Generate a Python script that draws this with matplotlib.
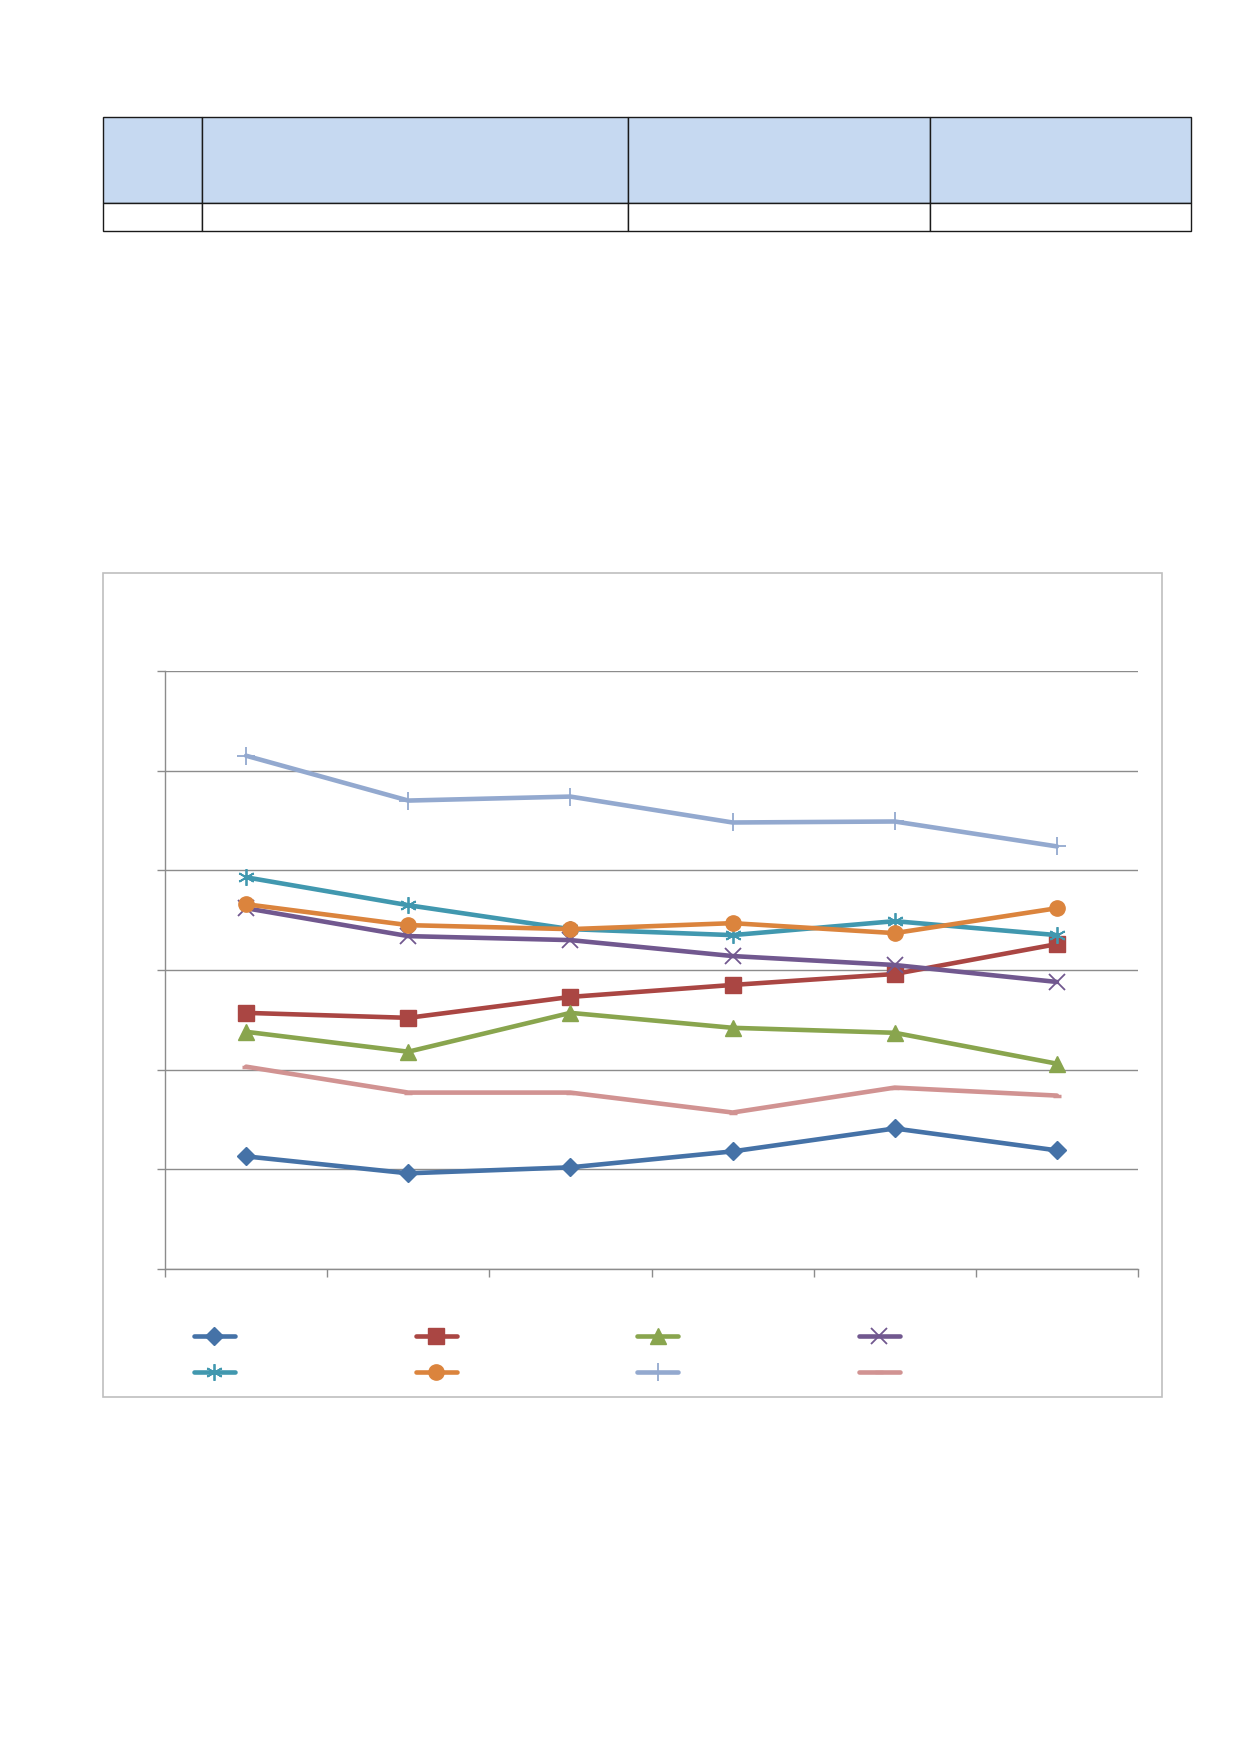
import numpy as np
import matplotlib
matplotlib.use("Agg")
import matplotlib.pyplot as plt
from matplotlib.patches import Rectangle

W, H = 1239, 1752

# six categories, values read against a 0-60 scale (no labels on the chart)
categories = ["", "", "", "", "", ""]
s_blue = [11.3, 9.6, 10.2, 11.8, 14.1, 11.9]
s_red = [25.7, 25.2, 27.3, 28.5, 29.6, 32.6]
s_green = [23.8, 21.8, 25.7, 24.2, 23.7, 20.6]
s_purple = [36.2, 33.4, 33.0, 31.4, 30.5, 28.8]
s_teal = [39.3, 36.5, 34.1, 33.5, 34.9, 33.5]
s_orange = [36.6, 34.5, 34.1, 34.7, 33.7, 36.2]
s_lblue = [51.5, 47.0, 47.4, 44.8, 44.9, 42.4]
s_pink = [20.3, 17.7, 17.7, 15.7, 18.2, 17.4]

# empty table above the chart: header row + one body row
table_cols = ["", "", "", ""]
table_rows = [["", "", "", ""]]


def fx(px):
    return px / W


def fy(py):
    return 1 - py / H


fig = plt.figure(figsize=(W / 100, H / 100), dpi=100)

# --- table ---
tax = fig.add_axes([fx(103), fy(231), fx(1191 - 103), (231 - 117) / H])
tax.axis("off")
col_w = np.array([99, 426, 302, 261], dtype=float)
tbl = tax.table(cellText=table_rows, colLabels=table_cols,
                colWidths=list(col_w / col_w.sum()), bbox=[0, 0, 1, 1])
for (r, c), cell in tbl.get_celld().items():
    cell.set_edgecolor("#1a1a1a")
    cell.set_linewidth(1.0)
    if r == 0:
        cell.set_facecolor("#C6D9F1")
        cell.set_height(86)
    else:
        cell.set_facecolor("white")
        cell.set_height(28)

# --- chart frame ---
fig.patches.append(Rectangle((fx(103), fy(1397)), fx(1162 - 103), (1397 - 573) / H,
                             transform=fig.transFigure, fill=False,
                             edgecolor="#BFBFBF", linewidth=1.2))

ax = fig.add_axes([fx(165), fy(1269), fx(1138 - 165), (1269 - 671) / H])
x = np.arange(len(categories)) + 0.5

series = [
    (s_blue, "#4572A7", dict(marker="D", ms=9)),
    (s_red, "#AA4643", dict(marker="s", ms=11)),
    (s_green, "#89A54E", dict(marker="^", ms=11)),
    (s_purple, "#71588F", dict(marker="x", ms=11, mew=1.3)),
    (s_teal, "#4198AF", dict(marker=(6, 2, 0), ms=12, mew=1.3)),
    (s_orange, "#DB843D", dict(marker="o", ms=11)),
    (s_lblue, "#93A9CF", dict(marker="+", ms=13, mew=1.3)),
    (s_pink, "#D19392", dict(marker="_", ms=6, mew=2.5)),
]
handles = []
for vals, col, mk in series:
    h, = ax.plot(x, vals, color=col, lw=3.3, solid_capstyle="round",
                 markeredgecolor=col, markerfacecolor=col, **mk)
    handles.append(h)

ax.set_xlim(0, 6)
ax.set_ylim(0, 60)
ax.set_xticks(np.arange(7))
ax.set_yticks(np.arange(0, 61, 10))
ax.set_xticklabels([])
ax.set_yticklabels([])
ax.yaxis.grid(True, color="#8C8C8C", lw=1.0)
ax.set_axisbelow(True)
for sp in ["top", "right"]:
    ax.spines[sp].set_visible(False)
for sp in ["left", "bottom"]:
    ax.spines[sp].set_color("#8C8C8C")
    ax.spines[sp].set_linewidth(1.0)
ax.tick_params(axis="both", direction="out", length=6, color="#8C8C8C", width=1.0)

# legend: 4 columns, 2 rows, filled row-wise
order = [0, 4, 1, 5, 2, 6, 3, 7]
leg = fig.legend([handles[i] for i in order], ["" for _ in order],
                 ncol=4, loc="upper left",
                 bbox_to_anchor=(fx(194), fy(1330)),
                 frameon=False, fontsize=10, borderpad=0, borderaxespad=0,
                 handlelength=2.95, handletextpad=0, columnspacing=13.0,
                 labelspacing=1.55)

fig.savefig("out.png", dpi=100)
